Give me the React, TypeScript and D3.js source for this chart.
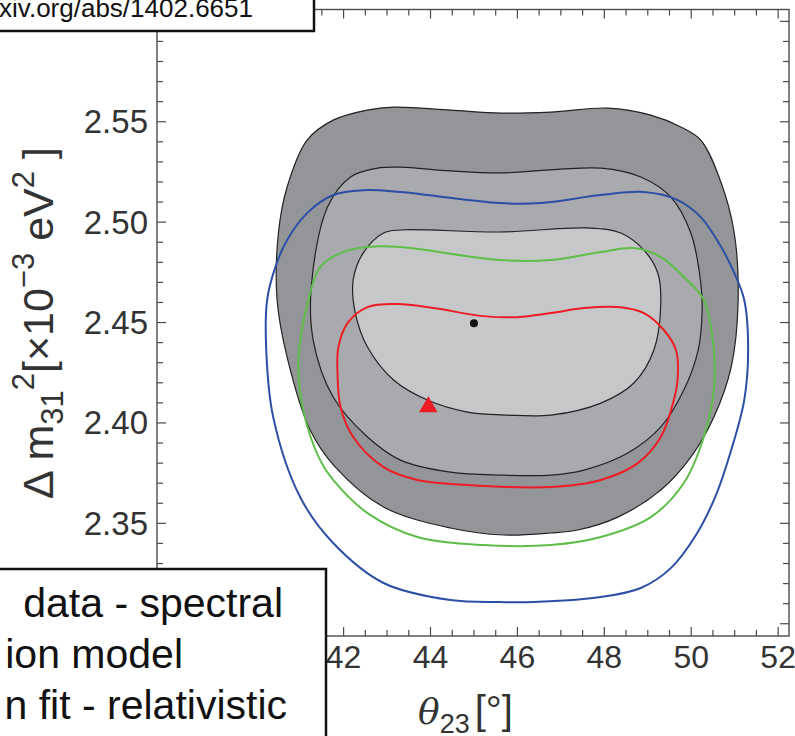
import React from "react";
import * as d3 from "d3";

type P = [number, number];

// contour data: [theta23 (deg), dm31^2 (1e-3 eV^2)]
const outer3sigma: P[] = [
  [45.61, 2.5543], [46.77, 2.5548], [48.08, 2.5568], [49.07, 2.5533], [49.76, 2.5474],
  [50.22, 2.5409], [50.69, 2.5195], [50.99, 2.4946], [51.08, 2.4612], [50.92, 2.4278],
  [50.52, 2.4029], [49.99, 2.383], [49.3, 2.3666], [48.31, 2.3531], [47.39, 2.3467],
  [46.77, 2.3452], [45.68, 2.3442], [44.46, 2.3477], [42.92, 2.3581], [41.81, 2.378],
  [41.23, 2.3965], [40.7, 2.4328], [40.47, 2.4612], [40.5, 2.4946], [40.7, 2.5175],
  [41.16, 2.5409], [41.76, 2.5508], [42.54, 2.5558], [43.15, 2.5573], [44.46, 2.5558],
];
const middle2sigma: P[] = [
  [45.61, 2.5245], [47.92, 2.5269], [48.84, 2.5225], [49.53, 2.5125], [49.99, 2.4946],
  [50.22, 2.4697], [50.25, 2.455], [50.16, 2.4363], [49.83, 2.4164], [49.3, 2.398],
  [48.54, 2.385], [47.53, 2.3765], [46.77, 2.374], [45.61, 2.374], [44.46, 2.3755],
  [43.31, 2.3815], [42.55, 2.393], [41.76, 2.4129], [41.3, 2.4413], [41.26, 2.4687],
  [41.63, 2.5075], [42.16, 2.5225], [42.78, 2.5269], [43.31, 2.5274], [44.46, 2.5255],
];
const inner1sigma: P[] = [
  [45.61, 2.4951], [47.62, 2.4971], [48.38, 2.4946], [48.91, 2.4861], [49.23, 2.4747],
  [49.3, 2.4612], [49.14, 2.4363], [48.68, 2.4199], [47.92, 2.4099], [46.77, 2.4039],
  [45.77, 2.4039], [44.85, 2.4054], [43.93, 2.4114], [43.15, 2.4214], [42.55, 2.4378],
  [42.27, 2.4547], [42.22, 2.4712], [42.45, 2.4846], [42.92, 2.4946], [43.31, 2.4961],
];
const blueContour: P[] = [
  [45.61, 2.5095], [46.53, 2.5095], [47.92, 2.5135], [48.91, 2.515], [49.69, 2.511],
  [50.22, 2.5025], [50.69, 2.4876], [50.99, 2.4747], [51.22, 2.4612], [51.31, 2.4363],
  [51.22, 2.4114], [50.92, 2.3865], [50.57, 2.3641], [50.11, 2.3442], [49.53, 2.3277],
  [48.84, 2.3178], [47.92, 2.3133], [46.37, 2.3108], [45.61, 2.3108], [44.46, 2.3118],
  [42.92, 2.3203], [41.76, 2.3402], [41.0, 2.3631], [40.38, 2.4029], [40.22, 2.4363],
  [40.24, 2.4612], [40.42, 2.477], [40.7, 2.4911], [41.16, 2.5045], [41.76, 2.5135],
  [42.55, 2.516], [43.31, 2.515],
];
const greenContour: P[] = [
  [45.61, 2.4811], [46.77, 2.4811], [47.92, 2.4851], [48.68, 2.4871], [49.3, 2.4826],
  [49.83, 2.4727], [50.29, 2.4612], [50.52, 2.4363], [50.52, 2.4164], [50.29, 2.393],
  [49.83, 2.3701], [49.07, 2.3531], [47.92, 2.3432], [46.77, 2.3392], [45.22, 2.3392],
  [43.7, 2.3432], [42.55, 2.3551], [41.76, 2.3716], [41.46, 2.3815], [41.07, 2.4064],
  [40.96, 2.4313], [41.19, 2.4612], [41.46, 2.4776], [41.93, 2.4846], [42.55, 2.4876],
  [43.31, 2.4876],
];
const redContour: P[] = [
  [46.0, 2.4527], [46.77, 2.4547], [47.53, 2.4572], [48.31, 2.4577], [48.91, 2.4547],
  [49.37, 2.4463], [49.65, 2.4363], [49.69, 2.4229], [49.6, 2.4114], [49.3, 2.393],
  [48.77, 2.38], [47.92, 2.3716], [46.77, 2.3681], [44.85, 2.3691], [43.7, 2.3716],
  [42.92, 2.378], [42.22, 2.393], [41.93, 2.4079], [41.86, 2.4249], [41.88, 2.4378],
  [42.09, 2.4497], [42.55, 2.4577], [43.24, 2.4592], [44.07, 2.4572], [45.22, 2.4532],
];
const bestFit: P = [45.0, 2.4497];
const triangleMark: P = [43.95, 2.408];

// visible tick labels (others are hidden under the boxes)
const xMajorTicks = [42, 44, 46, 48, 50, 52];
const yMajorTicks = [2.35, 2.4, 2.45, 2.5, 2.55];
const xMinorTicks = d3.range(76, 105).map((i) => i / 2);
const yMinorTicks = d3.range(230, 261).map((i) => i / 100);
const xMajorStep = 2;
const yMajorStep = 0.05;

const legendLines = ["data - spectral", "ion model", "n fit - relativistic"];
const urlText = "xiv.org/abs/1402.6651";

const W = 795, H = 736;
const L = 157, R = 789, T = 9.5, B = 636;

export default function App() {
  const x = d3.scaleLinear().domain([37.706, 52.25]).range([L, R]);
  const y = d3.scaleLinear().domain([2.2939, 2.6059]).range([B, T]);
  const line = d3
    .line<P>()
    .x((d) => x(d[0]))
    .y((d) => y(d[1]))
    .curve(d3.curveCatmullRomClosed.alpha(0.5));
  const tri = d3.symbol().type(d3.symbolTriangle).size(150)();
  const axisColor = "#4a4a4a";
  const font = "Liberation Sans, Arial, sans-serif";
  const isMajorX = (v: number) => Math.abs(v / xMajorStep - Math.round(v / xMajorStep)) < 1e-6;
  const isMajorY = (v: number) => Math.abs(v / yMajorStep - Math.round(v / yMajorStep)) < 1e-6;

  return (
    <svg
      width={W}
      height={H}
      style={{ position: "absolute", left: 0, top: 0, background: "#fff" }}
      fontFamily={font}
    >
      <rect x={0} y={0} width={W} height={H} fill="#fff" />
      <defs>
        <clipPath id="plot">
          <rect x={L} y={T} width={R - L} height={B - T} />
        </clipPath>
      </defs>
      <g clipPath="url(#plot)">
        <path d={line(outer3sigma) ?? ""} fill="#939598" stroke="#222" strokeWidth={1.2} />
        <path d={line(middle2sigma) ?? ""} fill="#a8aaad" stroke="#222" strokeWidth={1.2} />
        <path d={line(inner1sigma) ?? ""} fill="#c6c7c9" stroke="#222" strokeWidth={1.2} />
        <path d={line(blueContour) ?? ""} fill="none" stroke="#2c4fa6" strokeWidth={2} />
        <path d={line(greenContour) ?? ""} fill="none" stroke="#5fbd4a" strokeWidth={2} />
        <path d={line(redContour) ?? ""} fill="none" stroke="#ee1c25" strokeWidth={2} />
        <circle cx={x(bestFit[0])} cy={y(bestFit[1])} r={4} fill="#111" />
        <path d={tri ?? ""} transform={`translate(${x(triangleMark[0])},${y(triangleMark[1])})`} fill="#ee1c25" />
      </g>

      {/* frame */}
      <rect x={L} y={T} width={R - L} height={B - T} fill="none" stroke={axisColor} strokeWidth={1.4} />
      {xMinorTicks.map((v) => {
        const len = isMajorX(v) ? 9 : 6;
        return (
          <g key={"xt" + v} stroke={axisColor} strokeWidth={1.2}>
            <line x1={x(v)} x2={x(v)} y1={B} y2={B - len} />
            <line x1={x(v)} x2={x(v)} y1={T} y2={T + len} />
          </g>
        );
      })}
      {yMinorTicks.map((v) => {
        const len = isMajorY(v) ? 9 : 6;
        return (
          <g key={"yt" + v} stroke={axisColor} strokeWidth={1.2}>
            <line x1={L} x2={L + len} y1={y(v)} y2={y(v)} />
            <line x1={R} x2={R - len} y1={y(v)} y2={y(v)} />
          </g>
        );
      })}
      {xMajorTicks.map((v) => (
        <text key={"xl" + v} x={x(v)} y={668} textAnchor="middle" fontSize={32} fill="#333">
          {v}
        </text>
      ))}
      {yMajorTicks.map((v) => (
        <text key={"yl" + v} x={148} y={y(v) + 11.5} textAnchor="end" fontSize={33} fill="#333">
          {v.toFixed(2)}
        </text>
      ))}

      {/* x axis title */}
      <text x={418} y={724} fontSize={36} fill="#333">
        <tspan fontFamily="DejaVu Serif, serif" fontStyle="italic">θ</tspan>
        <tspan fontSize={27} dy={9}>23</tspan>
        <tspan dy={-9} dx={5} fontSize={40}>[°]</tspan>
      </text>

      {/* y axis title */}
      <text transform="translate(53,323) rotate(-90)" textAnchor="middle" fontSize={43} fill="#333">
        <tspan>Δ m</tspan>
        <tspan fontSize={31} dy={10}>31</tspan>
        <tspan fontSize={31} dy={-29}>2</tspan>
        <tspan dy={19}>[×10</tspan>
        <tspan fontSize={31} dy={-19}>−3</tspan>
        <tspan dy={19}> eV</tspan>
        <tspan fontSize={31} dy={-19}>2</tspan>
        <tspan dy={19}> ]</tspan>
      </text>

      {/* top-left url box */}
      <rect x={-5} y={-5} width={319} height={36} fill="#fff" stroke="#111" strokeWidth={2.5} />
      <text x={253} y={17} textAnchor="end" fontSize={26} fill="#111">
        {urlText}
      </text>

      {/* bottom-left legend box */}
      <rect x={-5} y={569} width={331} height={180} fill="#fff" stroke="#111" strokeWidth={2.5} />
      {legendLines.map((t, i) => (
        <text key={t} x={[283, 183, 287][i]} y={617 + i * 51} textAnchor="end" fontSize={41} fill="#111">
          {t}
        </text>
      ))}
    </svg>
  );
}
